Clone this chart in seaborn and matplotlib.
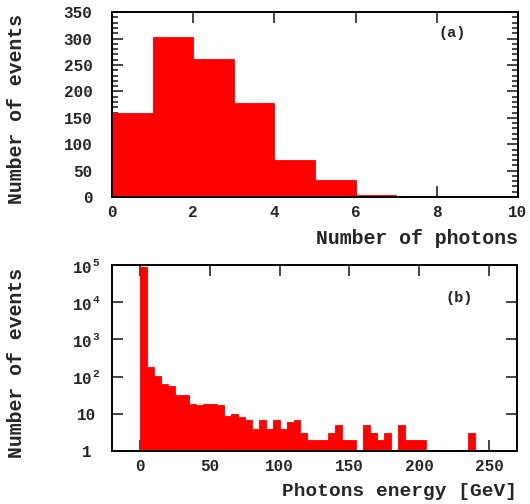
import numpy as np
import pandas as pd
import matplotlib
matplotlib.use("Agg")
import matplotlib.pyplot as plt
from matplotlib.ticker import MultipleLocator, FixedLocator, FixedFormatter, LogLocator, NullFormatter
import seaborn as sns

# Photon multiplicity per event (bins of width 1, from 0 to 10)
photon_bin_edges = [0, 1, 2, 3, 4, 5, 6, 7, 8, 9, 10]
photon_counts = [160, 302, 261, 178, 70, 33, 4, 0, 1, 1]

# Photon energy spectrum in GeV (bins of width 5, from 0 to 240)
energy_bin_width = 5
energy_counts = [
    86500, 178, 102, 62, 56, 33, 33, 19, 17, 18,
    18, 17, 9, 10, 8, 7, 4, 7, 4, 7,
    4, 6, 7, 3, 2, 2, 2, 3, 5, 2,
    2, 0, 5, 3, 2, 3, 0, 5, 2, 2,
    2, 1, 1, 1, 1, 1, 1, 3,
]

log_tick_values = [1, 10, 100, 1000, 10000, 100000]
log_tick_labels = ["1", "10", r"$10^{\,2}$", r"$10^{\,3}$", r"$10^{\,4}$", r"$10^{\,5}$"]

sns.set_style("ticks")
plt.rcParams["font.family"] = ["Liberation Mono", "DejaVu Sans Mono"]
plt.rcParams["font.weight"] = "bold"
plt.rcParams["mathtext.fontset"] = "custom"
plt.rcParams["mathtext.rm"] = "Liberation Mono:bold"
plt.rcParams["mathtext.it"] = "Liberation Mono:bold"
plt.rcParams["mathtext.bf"] = "Liberation Mono:bold"

fig = plt.figure(figsize=(5.30, 5.04), dpi=100)
ax1 = fig.add_axes([0.2113, 0.609, 0.766, 0.367])
ax2 = fig.add_axes([0.2113, 0.105, 0.764, 0.369])

# --- (a) number of photons ---
photon_df = pd.DataFrame({
    "n": [(a + b) / 2 for a, b in zip(photon_bin_edges[:-1], photon_bin_edges[1:])],
    "w": photon_counts,
})
sns.histplot(data=photon_df, x="n", weights="w", bins=photon_bin_edges,
             color="#ff0000", alpha=1.0, edgecolor="#ff0000", linewidth=0.6, ax=ax1)
ax1.set_xlim(0, 10)
ax1.set_ylim(0, 350)
ax1.xaxis.set_major_locator(MultipleLocator(2))
ax1.yaxis.set_major_locator(MultipleLocator(50))
ax1.yaxis.set_minor_locator(MultipleLocator(10))
ax1.set_xlabel("Number of photons", fontsize=14.3, fontweight="bold", loc="right", labelpad=6)
ax1.set_ylabel("Number of events", fontsize=14.3, fontweight="bold")
ax1.yaxis.set_label_coords(-0.212, 0.475)
ax1.text(8.37, 310, "(a)", fontsize=11, fontweight="bold", ha="center", va="center")

# --- (b) photon energy ---
energy_edges = [i * energy_bin_width for i in range(len(energy_counts) + 1)]
energy_df = pd.DataFrame({
    "e": [e + energy_bin_width / 2 for e in energy_edges[:-1]],
    "w": energy_counts,
})
sns.histplot(data=energy_df, x="e", weights="w", bins=energy_edges,
             color="#ff0000", alpha=1.0, edgecolor="#ff0000", linewidth=0.6, ax=ax2)
ax2.set_yscale("log")
ax2.set_xlim(-20, 270)
ax2.set_ylim(1, 1e5)
ax2.xaxis.set_major_locator(MultipleLocator(50))
ax2.yaxis.set_major_locator(FixedLocator(log_tick_values))
ax2.yaxis.set_major_formatter(FixedFormatter(log_tick_labels))
ax2.yaxis.set_minor_locator(LogLocator(base=10, subs=np.arange(2, 10)))
ax2.yaxis.set_minor_formatter(NullFormatter())
ax2.set_xlabel("Photons energy [GeV]", fontsize=14, fontweight="bold", loc="right", labelpad=6)
ax2.set_ylabel("Number of events", fontsize=14.3, fontweight="bold")
ax2.yaxis.set_label_coords(-0.212, 0.475)
ax2.text(229, 13000, "(b)", fontsize=11, fontweight="bold", ha="center", va="center")

for ax in (ax1, ax2):
    for s in ax.spines.values():
        s.set_visible(True)
        s.set_linewidth(1.4)
        s.set_color("black")
    ax.tick_params(which="both", direction="in", top=True, right=True,
                   labelsize=11.5, width=1.2)
    ax.tick_params(which="major", length=8)
    ax.tick_params(which="minor", length=4)
    ax.tick_params(axis="x", pad=6)
    for lbl in ax.get_xticklabels() + ax.get_yticklabels():
        lbl.set_fontweight("bold")

ax1.tick_params(axis="y", pad=14)
ax2.tick_params(axis="y", pad=18.5)
for lbl in ax2.get_yticklabels():
    lbl.set_horizontalalignment("center")

fig.savefig("out.png", dpi=100)
